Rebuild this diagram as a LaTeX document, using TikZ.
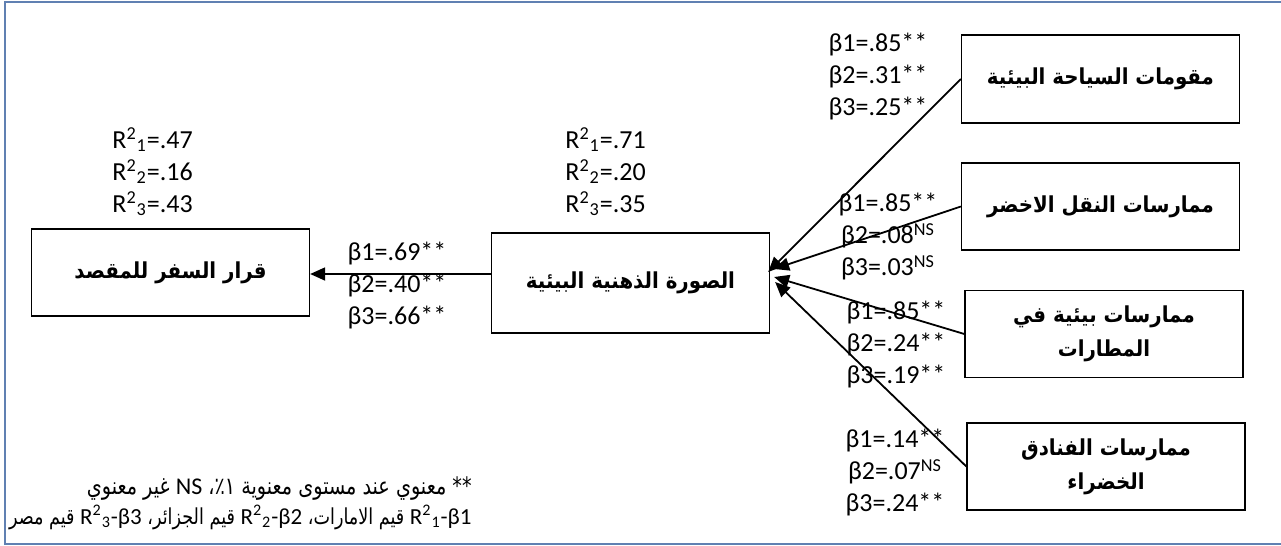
\documentclass[tikz,border=0pt]{standalone}
\usepackage{fontspec}
\setmainfont{Carlito}
\newfontfamily\latinfont{Carlito}
\newfontfamily\boxfont[Script=Arabic, FakeStretch=0.9]{DejaVu Sans}
\newfontfamily\arabicfont[Script=Arabic, FakeStretch=0.8]{DejaVu Sans}
\usetikzlibrary{arrows.meta}
\TeXXeTstate=1
\definecolor{framegray}{RGB}{96,128,178}

\begin{document}
\begin{tikzpicture}[
    x=0.5pt, y=-0.5pt,
    box/.style={draw, line width=0.65pt, minimum width=139pt, minimum height=#1, align=center, inner sep=0pt, font=\boxfont\bfseries\fontsize{11}{17}\selectfont},
    box/.default=43.5pt,
    val/.style={align=center, inner sep=0pt, font=\fontsize{13}{16}\selectfont},
    note/.style={align=right, inner sep=0pt, font=\arabicfont\fontsize{12}{15}\selectfont},
    arr/.style={-{Triangle[length=7.5pt,width=6.5pt]}, line width=0.9pt}
]
\useasboundingbox (0,0) rectangle (1281,546);
\draw[framegray, line width=0.75pt] (1281,2) -- (5,2) -- (5,544) -- (1281,544);

\node[box] (dest) at (170.5,272.5) {\beginR قرار السفر للمقصد\endR};
\node[box=50pt] (img) at (630.5,283) {\beginR الصورة الذهنية البيئية\endR};
\node[box=44pt] (comp) at (1100.5,79) {\beginR مقومات السياحة البيئية\endR};
\node[box] (trans) at (1100.5,206.5) {\beginR ممارسات النقل الاخضر\endR};
\node[box] (airp) at (1104,334) {\beginR ممارسات بيئية في\endR\\\beginR المطارات\endR};
\node[box] (hotel) at (1106,466.5) {\beginR ممارسات الفنادق\endR\\\beginR الخضراء\endR};

\node[val, anchor=west, align=left] (r2dest) at (112,172) {R\textsuperscript{2}\textsubscript{1}=.47\\R\textsuperscript{2}\textsubscript{2}=.16\\R\textsuperscript{2}\textsubscript{3}=.43};
\node[val, anchor=west, align=left] (r2img) at (565,172) {R\textsuperscript{2}\textsubscript{1}=.71\\R\textsuperscript{2}\textsubscript{2}=.20\\R\textsuperscript{2}\textsubscript{3}=.35};

\coordinate (dsrc) at ([yshift=4.5pt]img.west);
\draw[arr] (dsrc) -- (dsrc -| dest.east);
\node[val] (bdest) at (397,286) {β1=.69**\\β2=.40**\\β3=.66**};

\coordinate (tcomp) at ([shift={(-1pt,5.5pt)}]img.east);
\coordinate (ttrans) at ([shift={(2pt,7pt)}]img.east);
\coordinate (tairp) at ([shift={(2pt,3pt)}]img.east);
\coordinate (thotel) at ([shift={(2.5pt,0.5pt)}]img.east);
\draw[arr] (comp.west) -- (tcomp);
\draw[arr] (trans.west) -- (ttrans);
\draw[arr] (airp.west) -- (tairp);
\draw[arr] (hotel.west) -- (thotel);

\node[val] (bcomp) at (878,77) {β1=.85**\\β2=.31**\\β3=.25**};
\node[val] (btrans) at (888,237) {β1=.85**\\β2=.08\textsuperscript{NS}\\β3=.03\textsuperscript{NS}};
\node[val] (bairp) at (896,345) {β1=.85**\\β2=.24**\\β3=.19**};
\node[val] (bhotel) at (895,473) {β1=.14**\\β2=.07\textsuperscript{NS}\\β3=.24**};

\node[note, anchor=east] (legend) at (472,503) {\beginR ** معنوي عند مستوى معنوية ١٪، \beginL{\latinfont\fontsize{12}{15}\selectfont NS}\endL{} غير معنوي\endR\\\fontsize{11}{15}\selectfont\beginR\beginL{\latinfont\fontsize{11.5}{15}\selectfont R\textsuperscript{2}\textsubscript{1}-β1}\endL{} قيم الامارات، \beginL{\latinfont\fontsize{11.5}{15}\selectfont R\textsuperscript{2}\textsubscript{2}-β2}\endL{} قيم الجزائر، \beginL{\latinfont\fontsize{11.5}{15}\selectfont R\textsuperscript{2}\textsubscript{3}-β3}\endL{} قيم مصر\endR};
\end{tikzpicture}
\end{document}
